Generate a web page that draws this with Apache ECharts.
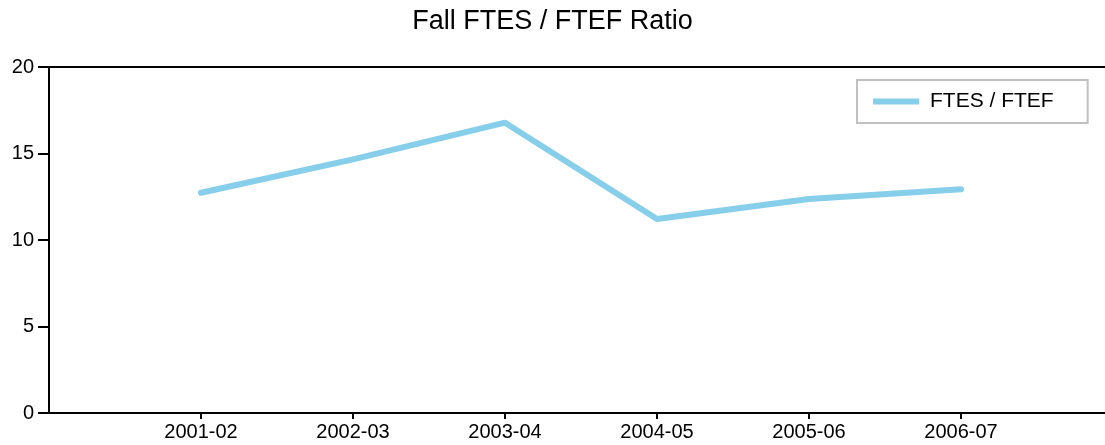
<!DOCTYPE html>
<html>
<head>
<meta charset="utf-8">
<script src="https://cdn.jsdelivr.net/npm/echarts@6/dist/echarts.min.js"></script>
<style>
  html, body { margin: 0; padding: 0; background: #fff; }
  #chart { width: 1105px; height: 445px; }
</style>
</head>
<body>
<div id="chart"></div>
<script>
// 学年 (padded with an empty slot on each side, like the original layout)
const years = ['', '2001-02', '2002-03', '2003-04', '2004-05', '2005-06', '2006-07', ''];
const ratio = ['-', 12.73, 14.66, 16.78, 11.21, 12.37, 12.93, '-'];
const yTicks = { min: 0, max: 20, interval: 5 };

const fontFamily = 'Liberation Sans, Arial, sans-serif';
const lineColor = '#000';
const seriesColor = '#87ceeb';

const chart = echarts.init(document.getElementById('chart'));
const option = {
  animation: false,
  textStyle: { fontFamily: fontFamily },
  title: {
    text: 'Fall FTES / FTEF Ratio',
    left: 'center',
    top: 3,
    textStyle: { color: '#000', fontSize: 27, fontWeight: 'normal', fontFamily: fontFamily }
  },
  legend: {
    left: 857,
    top: 80,
    padding: [11, 34, 11, 16],
    borderColor: '#c0c0c0',
    borderWidth: 2,
    icon: 'rect',
    itemWidth: 46,
    itemHeight: 6,
    textStyle: { color: '#000', fontSize: 21, fontFamily: fontFamily, padding: [0, 0, 0, 6] },
    data: ['FTES / FTEF']
  },
  grid: {
    left: 49,
    top: 67,
    bottom: 32,
    width: 1064,
    outerBoundsMode: 'none',
    containLabel: false,
    show: true,
    borderColor: lineColor,
    borderWidth: 2
  },
  xAxis: {
    type: 'category',
    data: years,
    boundaryGap: false,
    axisLine: { lineStyle: { color: lineColor, width: 2 } },
    axisTick: {
      length: 6,
      lineStyle: { color: lineColor, width: 2 },
      interval: (idx, val) => val !== ''
    },
    axisLabel: { color: '#000', fontSize: 20, margin: 9, interval: 0 },
    splitLine: { show: false }
  },
  yAxis: {
    type: 'value',
    min: yTicks.min,
    max: yTicks.max,
    interval: yTicks.interval,
    axisLine: { show: true, lineStyle: { color: lineColor, width: 2 } },
    axisTick: { show: true, length: 11, lineStyle: { color: lineColor, width: 2 } },
    axisLabel: { color: '#000', fontSize: 20, margin: 15 },
    splitLine: { show: false }
  },
  series: [{
    name: 'FTES / FTEF',
    type: 'line',
    data: ratio,
    color: seriesColor,
    symbol: 'none',
    lineStyle: { width: 6, color: seriesColor, cap: 'round' }
  }]
};
chart.setOption(option);
</script>
</body>
</html>
